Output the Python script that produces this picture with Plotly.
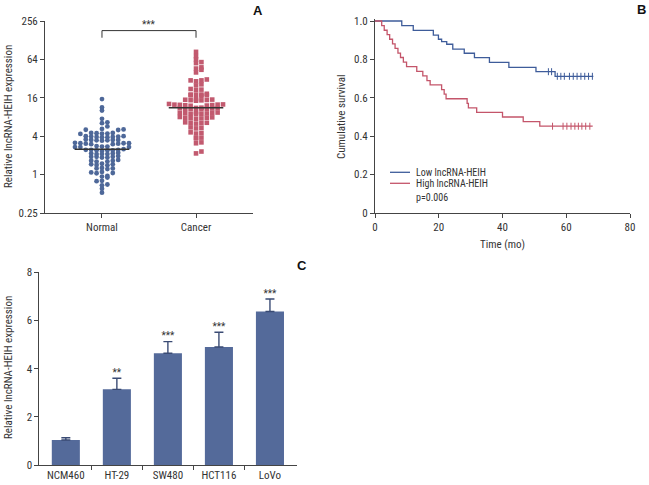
import numpy as np
import plotly.graph_objects as go

W, H = 649, 485
FONT = "Liberation Sans Narrow, Roboto Condensed, DejaVu Sans Condensed, Arial Narrow, sans-serif"
TXT = "#333333"
AX = "#444444"

# ---------------- Panel A data ----------------
groups = ["Normal", "Cancer"]
normal_expr = [15.3, 11.3, 10.1, 7.5, 6.6, 6.4, 5.7,
               5.2, 5.1, 5.05, 5.0,
               4.5, 4.5, 4.45, 4.4, 4.4, 4.35,
               4.0, 4.0, 3.95, 3.95, 3.9, 3.9, 3.85, 3.85,
               3.55, 3.5, 3.5, 3.5, 3.45, 3.45, 3.4,
               3.15, 3.1, 3.1, 3.1, 3.05, 3.05, 3.0, 3.0,
               2.8, 2.75, 2.75, 2.7, 2.7, 2.7,
               2.5, 2.45, 2.45, 2.45, 2.4, 2.4, 2.4, 2.35,
               2.2, 2.15, 2.15, 2.1, 2.1, 2.1,
               1.95, 1.9, 1.9, 1.9, 1.85, 1.85,
               1.7, 1.65, 1.65, 1.6, 1.6,
               1.48, 1.45, 1.45, 1.42, 1.4,
               1.27, 1.25, 1.25, 1.22,
               1.1, 1.08, 1.06, 1.05,
               0.95, 0.93, 0.9,
               0.8, 0.79,
               0.7, 0.68,
               0.6, 0.52]
cancer_expr = [84, 72, 64, 58, 56, 48, 46, 44, 40,
               31, 30, 30, 29,
               26, 25,
               22, 21.5, 21,
               18.5, 18, 18, 17.8, 17.6, 17.5, 17.2,
               15.2, 15, 14.9, 14.8, 14.7, 14.6, 14.4,
               12.8, 12.6, 12.5, 12.5, 12.4, 12.3, 12.2, 12.1, 12.0,
               11.2, 11.1, 11.0, 11.0, 10.9, 10.8, 10.8, 10.7, 10.6,
               9.5, 9.4, 9.3, 9.3, 9.2, 9.1, 9.0, 9.0, 8.9,
               8.0, 7.9, 7.8, 7.8, 7.7, 7.6, 7.5,
               6.6, 6.5, 6.5, 6.4, 6.3,
               5.5, 5.4, 5.3,
               4.6, 4.5, 4.4,
               3.8, 3.75, 3.7,
               3.2, 3.1,
               2.3, 2.15]
yticks_a = [0.25, 1, 4, 16, 64, 256]
yticklabels_a = ["0.25", "1", "4", "16", "64", "256"]
signif_a = "***"

# ---------------- Panel B data ----------------
low_label = "Low lncRNA-HEIH"
high_label = "High lncRNA-HEIH"
p_text = "p=0.006"
low_time = [0, 8.4, 12.0, 18.3, 19.9, 20.9, 22.5, 24.4, 28.0, 31.2, 35.9, 42.0, 50.5, 56.5, 68.5]
low_surv = [1.0, 0.976, 0.951, 0.927, 0.905, 0.893, 0.879, 0.854, 0.832, 0.809, 0.785, 0.759, 0.736, 0.712, 0.712]
low_censor = [54.4, 55.4, 57.2, 58.3, 59.4, 61.0, 62.2, 63.4, 64.6, 65.8, 67.0, 68.2]
high_time = [0, 2.1, 2.9, 3.8, 4.6, 5.5, 6.3, 7.2, 8.0, 8.9, 9.9, 13.1, 15.0, 16.3, 17.3,
             20.9, 21.7, 22.3, 28.9, 29.3, 31.9, 40.0, 46.5, 51.7, 68.3]
high_surv = [1.0, 0.976, 0.952, 0.929, 0.905, 0.881, 0.857, 0.833, 0.810, 0.786, 0.762, 0.738,
             0.714, 0.690, 0.667, 0.643, 0.619, 0.595, 0.571, 0.548, 0.524, 0.500, 0.476, 0.452, 0.452]
high_censor = [55.7, 59.0, 60.2, 61.5, 62.7, 63.8, 64.9, 66.1, 67.4]
xticks_b = [0, 20, 40, 60, 80]
yticks_b = [0, 0.2, 0.4, 0.6, 0.8, 1.0]
yticklabels_b = ["0", "0.2", "0.4", "0.6", "0.8", "1.0"]

# ---------------- Panel C data ----------------
cell_lines = ["NCM460", "HT-29", "SW480", "HCT116", "LoVo"]
rel_expr = [1.04, 3.14, 4.64, 4.90, 6.37]
rel_err = [0.09, 0.46, 0.48, 0.61, 0.52]
signif_c = ["", "**", "***", "***", "***"]
yticks_c = [0, 2, 4, 6, 8]

# ---------------- colours ----------------
BLUE_DOT = "#4E6899"
RED_DOT = "#C25A6F"
KM_BLUE = "#3E5C9A"
KM_RED = "#C4556A"
BAR = "#546A9A"


def fx(p):
    return p / W


def fy(p):
    return 1 - p / H


# panel geometry (pixels)
A_L, A_R, A_T, A_B = 45, 253, 21, 213
B_L, B_R, B_T, B_B = 375, 630, 21, 213
C_L, C_R, C_T, C_B = 39.3, 297, 272.3, 465
A_XR = [-0.606, 1.606]
A_YR = [np.log10(0.25), np.log10(256)]

ppu_y_a = (A_B - A_T) / (A_YR[1] - A_YR[0])
ppu_x_a = (A_R - A_L) / (A_XR[1] - A_XR[0])


def grid_swarm(vals, row_h, col_w):
    """Prism-like scatter: bin values into rows, fill columns 0, +1, -1, +2, ..."""
    ypix = np.log10(np.asarray(vals, float)) * ppu_y_a
    bins = np.round(ypix / row_h).astype(int)
    xs = np.zeros(len(vals))
    for b in np.unique(bins):
        idx = np.where(bins == b)[0]
        idx = idx[np.argsort(ypix[idx])]
        for k, i in enumerate(idx):
            slot = (k + 1) // 2 * (1 if k % 2 == 1 else -1)
            xs[i] = slot * col_w
    return xs / ppu_x_a


fig = go.Figure()

# ---- Panel A ----
for gi, (vals, col, sym, sz) in enumerate([(normal_expr, BLUE_DOT, "circle", 4.8),
                                           (cancer_expr, RED_DOT, "square", 4.6)]):
    off = grid_swarm(vals, 4.3, 5.4)
    fig.add_trace(go.Scatter(
        x=gi + off, y=vals, mode="markers", xaxis="x", yaxis="y",
        marker=dict(color=col, size=sz, symbol=sym, line=dict(width=0)),
        showlegend=False, hoverinfo="y"))
    med = float(np.median(vals))
    fig.add_trace(go.Scatter(
        x=[gi - 0.29, gi + 0.29], y=[med, med], mode="lines", xaxis="x", yaxis="y",
        line=dict(color="#333333", width=1.5), showlegend=False, hoverinfo="skip"))

# significance bracket
br_top, br_bot = 181, 140
fig.add_trace(go.Scatter(
    x=[0, 0, 1, 1], y=[br_bot, br_top, br_top, br_bot], mode="lines", xaxis="x", yaxis="y",
    line=dict(color="#333333", width=1), showlegend=False, hoverinfo="skip"))


# ---- Panel B ----
def step_at(times, surv, t):
    idx = np.searchsorted(times, t, side="right") - 1
    return [surv[i] for i in idx]


for times, surv, cens, col, name in [(low_time, low_surv, low_censor, KM_BLUE, low_label),
                                     (high_time, high_surv, high_censor, KM_RED, high_label)]:
    fig.add_trace(go.Scatter(x=times, y=surv, mode="lines", line_shape="hv", xaxis="x2", yaxis="y2",
                             line=dict(color=col, width=1.3), name=name, showlegend=False))
    fig.add_trace(go.Scatter(x=cens, y=step_at(np.array(times), surv, np.array(cens)), mode="markers",
                             xaxis="x2", yaxis="y2",
                             marker=dict(symbol="line-ns", size=5, line=dict(color=col, width=1)),
                             showlegend=False, hoverinfo="skip"))

# ---- Panel C ----
xc = list(range(len(cell_lines)))
fig.add_trace(go.Bar(
    x=xc, y=rel_expr, xaxis="x3", yaxis="y3", width=0.55,
    marker=dict(color=BAR, line=dict(width=0)),
    error_y=dict(type="data", array=rel_err, arrayminus=[0] * len(rel_err), symmetric=False,
                 color="#3A4B74", thickness=1.4, width=4.5),
    showlegend=False))
fig.add_trace(go.Scatter(
    x=xc, y=[m + e for m, e in zip(rel_expr, rel_err)], mode="text", text=signif_c,
    textposition="top center", xaxis="x3", yaxis="y3", cliponaxis=False,
    textfont=dict(family=FONT, size=10, color=TXT), showlegend=False, hoverinfo="skip"))

axis_common = dict(showline=True, linecolor=AX, linewidth=1, ticks="outside", ticklen=4,
                   tickcolor=AX, tickwidth=1, showgrid=False, zeroline=False,
                   tickfont=dict(family=FONT, size=11, color=TXT))

fig.update_layout(
    width=W, height=H, margin=dict(l=0, r=0, t=0, b=0, autoexpand=False),
    paper_bgcolor="white", plot_bgcolor="white",
    font=dict(family=FONT, size=11, color=TXT),
    xaxis=dict(domain=[fx(A_L), fx(A_R)], range=A_XR, tickvals=[0, 1], ticktext=groups,
               anchor="y", **axis_common),
    yaxis=dict(domain=[fy(A_B), fy(A_T)], type="log", range=A_YR, tickvals=yticks_a,
               ticktext=yticklabels_a, anchor="x", **axis_common),
    xaxis2=dict(domain=[fx(B_L), fx(B_R)], range=[0, 80], tickvals=xticks_b, anchor="y2", **axis_common),
    yaxis2=dict(domain=[fy(B_B), fy(B_T - 1.9)], range=[0, 1.01], tickvals=yticks_b,
                ticktext=yticklabels_b, anchor="x2", **axis_common),
    xaxis3=dict(domain=[fx(C_L), fx(C_R)], range=[-0.52, 4.53], tickvals=xc, ticktext=cell_lines,
                anchor="y3", **{**axis_common, "ticks": "", "ticklen": 0}),
    xaxis4=dict(domain=[fx(C_L), fx(C_R)], range=[-0.52, 4.53], overlaying="x3", anchor="y3",
                side="bottom", showline=False, showgrid=False, zeroline=False, ticks="outside",
                ticklen=4, tickcolor=AX, tickwidth=1, tickvals=[0.5, 1.5, 2.5, 3.5],
                showticklabels=False),
    yaxis3=dict(domain=[fy(C_B), fy(C_T)], range=[0, 8], tickvals=yticks_c, anchor="x3", **axis_common),
)
# invisible trace to activate overlay axis for boundary ticks
fig.add_trace(go.Scatter(x=[0], y=[0], xaxis="x4", yaxis="y3", mode="markers",
                         marker=dict(opacity=0), showlegend=False, hoverinfo="skip"))


def P(text, x, y, size=11, angle=0, xa="center", ya="middle", **kw):
    return dict(text=text, x=fx(x), y=fy(y), textangle=angle, xanchor=xa, yanchor=ya,
                showarrow=False, xref="paper", yref="paper", font=dict(size=size, **kw))


ann = [
    P("Relative lncRNA-HEIH expression", 8, 117, angle=-90),
    P("Cumulative survival", 341, 117, angle=-90),
    P("Time (mo)", 502, 244),
    P("Relative lncRNA-HEIH expression", 8, 368, angle=-90),
]
for letter, lx, ly in [("A", 258, 10), ("B", 641, 9), ("C", 302, 265)]:
    ann.append(P("<b>%s</b>" % letter, lx, ly, size=13, family="Liberation Sans, Arial, sans-serif",
                 color="#111111"))
ann.append(dict(text=signif_a, x=0.5, y=np.log10(181), xref="x", yref="y", showarrow=False,
                xanchor="center", yanchor="bottom", yshift=-1, font=dict(size=10)))
for lbl, ly in [(low_label, 172.3), (high_label, 183.3)]:
    ann.append(P(lbl, 414, ly, size=10, xa="left"))
ann.append(P(p_text, 414, 197.7, size=10, xa="left"))
fig.update_layout(annotations=ann)

shapes = []
for col, ly in [(KM_BLUE, 172.3), (KM_RED, 183.3)]:
    shapes.append(dict(type="line", xref="paper", yref="paper", x0=fx(390), x1=fx(410), y0=fy(ly), y1=fy(ly),
                       line=dict(color=col, width=1.3)))
fig.update_layout(shapes=shapes)

fig.write_html("out.html", config={"displayModeBar": False},
               post_script="document.body.style.margin='0';document.body.style.overflow='hidden';")
